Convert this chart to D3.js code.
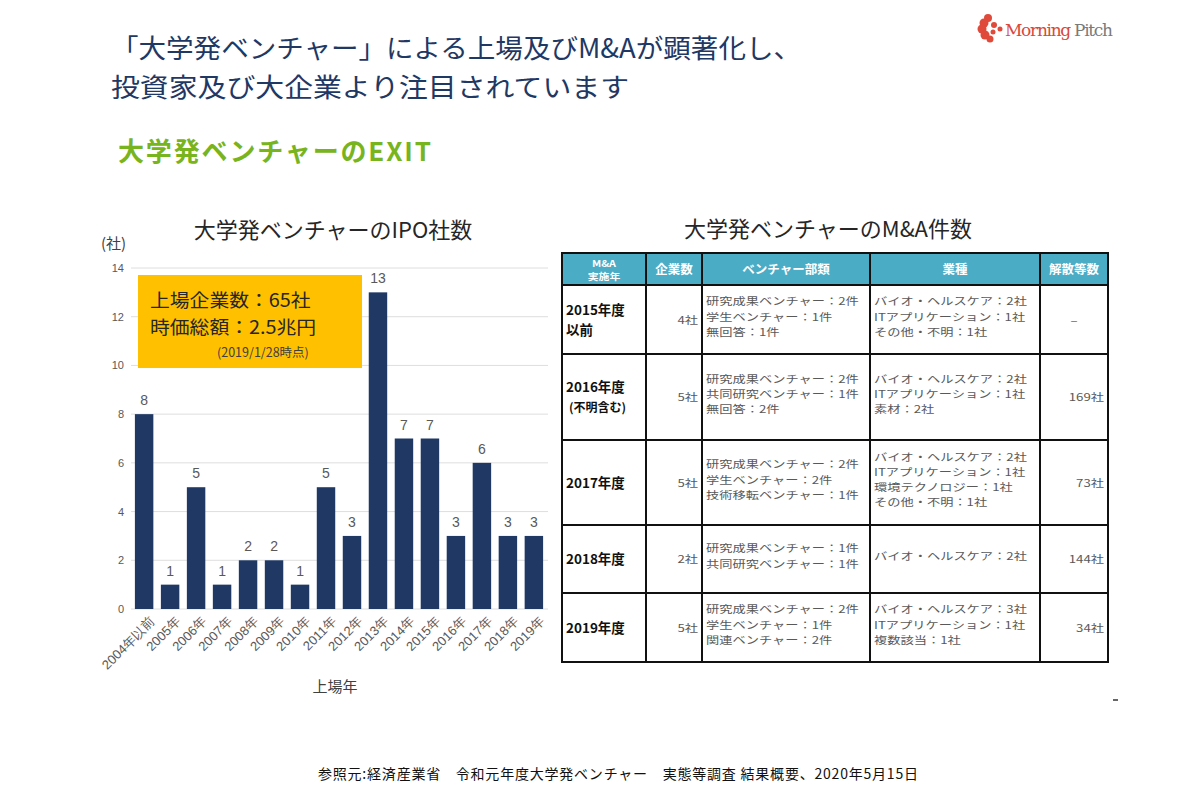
<!DOCTYPE html>
<html>
<head>
<meta charset="utf-8">
<script src="https://cdn.jsdelivr.net/npm/d3@7"></script>
<style>
  body { margin: 0; background: #fff; }
  svg { font-family: "Noto Sans CJK JP", "Noto Sans", sans-serif; }
</style>
</head>
<body>
<svg id="chart" width="1200" height="800"></svg>
<script>
// IPO bar chart data
const years = ["2004年以前", "2005年", "2006年", "2007年", "2008年", "2009年", "2010年", "2011年",
  "2012年", "2013年", "2014年", "2015年", "2016年", "2017年", "2018年", "2019年"];
const ipoCounts = [8, 1, 5, 1, 2, 2, 1, 5, 3, 13, 7, 7, 3, 6, 3, 3];
const yTicks = [0, 2, 4, 6, 8, 10, 12, 14];

// M&A table data
const headers = [["M&A", "実施年"], ["企業数"], ["ベンチャー部類"], ["業種"], ["解散等数"]];
const maYears = [["2015年度", "以前"], ["2016年度", "(不明含む)"], ["2017年度"], ["2018年度"], ["2019年度"]];
const maCompanies = ["4社", "5社", "5社", "2社", "5社"];
const ventureTypes = [
  ["研究成果ベンチャー：2件", "学生ベンチャー：1件", "無回答：1件"],
  ["研究成果ベンチャー：2件", "共同研究ベンチャー：1件", "無回答：2件"],
  ["研究成果ベンチャー：2件", "学生ベンチャー：2件", "技術移転ベンチャー：1件"],
  ["研究成果ベンチャー：1件", "共同研究ベンチャー：1件"],
  ["研究成果ベンチャー：2件", "学生ベンチャー：1件", "関連ベンチャー：2件"]
];
const industries = [
  ["バイオ・ヘルスケア：2社", "ITアプリケーション：1社", "その他・不明：1社"],
  ["バイオ・ヘルスケア：2社", "ITアプリケーション：1社", "素材：2社"],
  ["バイオ・ヘルスケア：2社", "ITアプリケーション：1社", "環境テクノロジー：1社", "その他・不明：1社"],
  ["バイオ・ヘルスケア：2社"],
  ["バイオ・ヘルスケア：3社", "ITアプリケーション：1社", "複数該当：1社"]
];
const dissolved = ["–", "169社", "73社", "144社", "34社"];

const svg = d3.select("#chart");
const navy = "#1f3864";
const grey = "#595959";

// multi-line text as one element with tspans, optionally stretched sideways
function multiLine(sel, lines, x0, yFirst, lh, stretch) {
  lines.forEach((s, j) => {
    const ts = sel.append("tspan").attr("x", x0).attr("y", yFirst + j * lh).text(s);
    if (stretch) {
      const w = ts.node().getComputedTextLength();
      ts.attr("textLength", w * stretch).attr("lengthAdjust", "spacingAndGlyphs");
    }
  });
  return sel;
}

// --- page header ---
svg.append("text").attr("font-size", 26.5).attr("fill", navy)
  .call(t => {
    t.append("tspan").attr("x", 111).attr("y", 58).attr("textLength", 690)
      .attr("lengthAdjust", "spacingAndGlyphs").text("「大学発ベンチャー」による上場及びM&Aが顕著化し、");
    t.append("tspan").attr("x", 111).attr("y", 96.5).attr("textLength", 518)
      .attr("lengthAdjust", "spacingAndGlyphs").text("投資家及び大企業より注目されています");
  });
svg.append("text").attr("x", 118).attr("y", 161)
  .attr("font-size", 26).attr("font-weight", "bold").attr("fill", "#78b41e").attr("textLength", 313)
  .text("大学発ベンチャーのEXIT");

// logo
const logo = svg.append("g").attr("transform", "translate(978,14)");
[[10, 4, 4], [6, 9, 4.5], [4, 15, 4.5], [7, 21, 4.5], [12, 25, 3.5], [16, 11, 3], [15, 18, 2.5], [22, 15, 2.5]]
  .forEach(c => logo.append("circle").attr("cx", c[0]).attr("cy", c[1]).attr("r", c[2]).attr("fill", "#e04a3a"));
svg.append("text").attr("x", 1005).attr("y", 36).attr("font-size", 17)
  .attr("font-family", "DejaVu Serif")
  .call(t => {
    t.append("tspan").attr("fill", "#d9483a").text("Morning");
    t.append("tspan").attr("fill", "#7a7a7a").text(" Pitch");
  })
  .attr("textLength", 108);

// --- IPO bar chart ---
svg.append("text").attr("x", 333).attr("y", 238).attr("text-anchor", "middle")
  .attr("font-size", 22).attr("fill", "#262626").text("大学発ベンチャーのIPO社数");
svg.append("text").attr("x", 101).attr("y", 249).attr("font-size", 15).attr("fill", "#404040").text("(社)");

const x = d3.scaleBand().domain(years).range([131, 547]).paddingInner(0.29).paddingOuter(0.15);
const y = d3.scaleLinear().domain([0, 14]).range([609, 268]);

svg.append("g").selectAll("line").data(yTicks).enter().append("line")
  .attr("x1", 131).attr("x2", 548)
  .attr("y1", d => y(d)).attr("y2", d => y(d))
  .attr("stroke", "#dedede").attr("stroke-width", 1);

const yAxis = svg.append("g").attr("transform", "translate(124,0)")
  .call(d3.axisLeft(y).tickValues(yTicks).tickSize(0).tickPadding(0));
yAxis.select(".domain").remove();
yAxis.selectAll("text").attr("font-size", 11).attr("fill", grey).attr("font-family", "Liberation Sans");

svg.append("g").selectAll("rect").data(ipoCounts).enter().append("rect")
  .attr("x", (d, i) => x(years[i]))
  .attr("width", x.bandwidth())
  .attr("y", d => y(d))
  .attr("height", d => y(0) - y(d))
  .attr("fill", navy);

svg.append("g").selectAll("text").data(ipoCounts).enter().append("text")
  .attr("x", (d, i) => x(years[i]) + x.bandwidth() / 2)
  .attr("y", d => y(d) - 9)
  .attr("text-anchor", "middle").attr("font-size", 14).attr("fill", grey)
  .attr("font-family", "Liberation Sans")
  .text(d => d);

const xAxis = svg.append("g").attr("transform", "translate(0,613)")
  .call(d3.axisBottom(x).tickSize(0).tickPadding(0));
xAxis.select(".domain").remove();
xAxis.selectAll("text")
  .attr("font-size", 13).attr("fill", grey)
  .attr("text-anchor", "end")
  .attr("transform", "translate(8,6) rotate(-45)")
  .attr("dy", "0.35em");

svg.append("text").attr("x", 335).attr("y", 692).attr("text-anchor", "middle")
  .attr("font-size", 15).attr("fill", "#404040").text("上場年");

// yellow note box
svg.append("rect").attr("x", 138).attr("y", 275).attr("width", 224).attr("height", 93).attr("fill", "#ffc000");
svg.append("text").attr("font-size", 18.5).attr("fill", "#262626")
  .call(t => multiLine(t, ["上場企業数：65社", "時価総額：2.5兆円"], 150, 307, 27, 1.07));
svg.append("text").attr("x", 217).attr("y", 357).attr("font-size", 12.5).attr("fill", "#404040").text("(2019/1/28時点)");

// --- M&A table ---
svg.append("text").attr("x", 828).attr("y", 237).attr("text-anchor", "middle")
  .attr("font-size", 22).attr("fill", "#262626").text("大学発ベンチャーのM&A件数");

const colEdges = [562, 646, 702, 870, 1040, 1108];
const rowEdges = [253, 285, 354, 440, 525, 593, 662];

const table = svg.append("g");
table.append("rect").attr("x", colEdges[0]).attr("y", rowEdges[0])
  .attr("width", colEdges[5] - colEdges[0]).attr("height", rowEdges[1] - rowEdges[0])
  .attr("fill", "#4bacc6");

headers.forEach((h, i) => {
  const cx = (colEdges[i] + colEdges[i + 1]) / 2;
  const cy = (rowEdges[0] + rowEdges[1]) / 2;
  const two = h.length > 1;
  const lh = 13.2;
  table.append("text").attr("text-anchor", "middle").attr("font-size", two ? 9 : 12.5)
    .attr("font-weight", "bold").attr("fill", "#fff")
    .call(t => multiLine(t, h, cx, cy - (h.length - 1) / 2 * lh + 4.5, lh, two ? 1.2 : 0));
});

const bodySize = 10.5;
const lineH = 15.3;
function cell(lines, x0, cy, anchor) {
  table.append("text").attr("text-anchor", anchor).attr("font-size", bodySize).attr("fill", grey)
    .call(t => multiLine(t, lines, x0, cy - (lines.length - 1) / 2 * lineH + 4, lineH, 1.26));
}

maYears.forEach((yr, r) => {
  const cy = (rowEdges[r + 1] + rowEdges[r + 2]) / 2;
  const yt = table.append("text").attr("font-weight", "bold").attr("fill", "#111");
  yr.forEach((s, j) => {
    const sub = j > 0 && s.startsWith("(");
    yt.append("tspan").attr("x", sub ? 569 : 566)
      .attr("y", cy + (j - (yr.length - 1) / 2) * 20 + 5)
      .attr("font-size", sub ? 12 : 13.5).text(s);
  });
  cell([maCompanies[r]], colEdges[2] - 4, cy, "end");
  cell(ventureTypes[r], colEdges[2] + 4, cy - 3, "start");
  cell(industries[r], colEdges[3] + 4, cy - 3, "start");
  if (dissolved[r] === "–") {
    cell([dissolved[r]], (colEdges[4] + colEdges[5]) / 2, cy, "middle");
  } else {
    cell([dissolved[r]], colEdges[5] - 4, cy, "end");
  }
});

// table rules
table.selectAll(".hl").data(rowEdges).enter().append("line")
  .attr("x1", colEdges[0] - 1).attr("x2", colEdges[5] + 1)
  .attr("y1", d => d).attr("y2", d => d)
  .attr("stroke", "#111").attr("stroke-width", 2);
table.selectAll(".vl").data(colEdges).enter().append("line")
  .attr("x1", d => d).attr("x2", d => d)
  .attr("y1", rowEdges[0]).attr("y2", rowEdges[rowEdges.length - 1])
  .attr("stroke", "#111").attr("stroke-width", 2);

// stray mark and footer
svg.append("line").attr("x1", 1113).attr("x2", 1118).attr("y1", 700).attr("y2", 700)
  .attr("stroke", "#333").attr("stroke-width", 1.5);
svg.append("text").attr("x", 318).attr("y", 779).attr("font-size", 14).attr("fill", "#111")
  .attr("textLength", 600)
  .text("参照元:経済産業省　令和元年度大学発ベンチャー　実態等調査 結果概要、2020年5月15日");
</script>
</body>
</html>
